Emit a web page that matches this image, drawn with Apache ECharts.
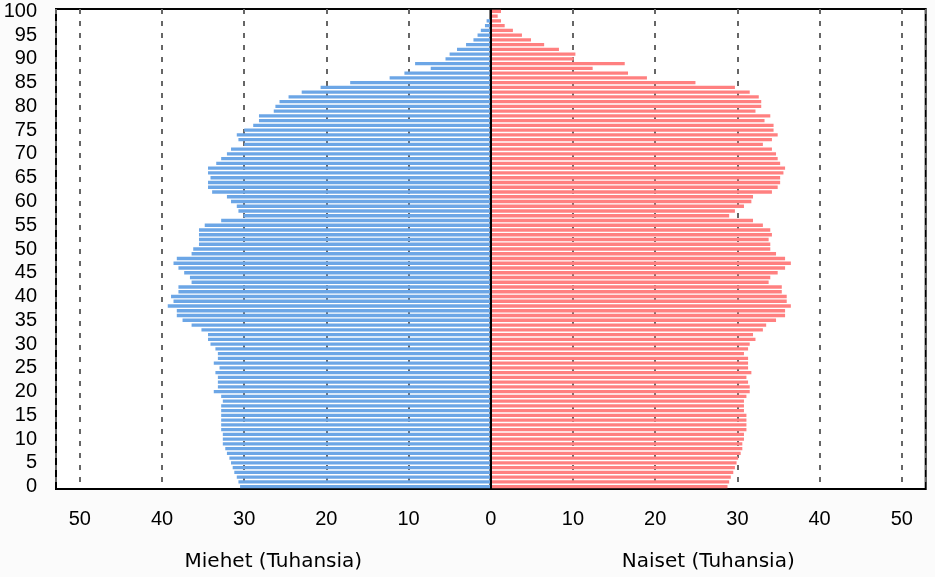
<!DOCTYPE html>
<html>
<head>
<meta charset="utf-8">
<script src="https://cdn.jsdelivr.net/npm/echarts@6/dist/echarts.min.js"></script>
<style>
html, body { margin: 0; padding: 0; background: #fbfbfb; }
#chart { width: 935px; height: 577px; }
</style>
</head>
<body>
<div id="chart"></div>
<script>
// ikäryhmät 0..100
var ages = ['0','1','2','3','4','5','6','7','8','9','10','11','12','13','14','15','16','17','18','19',
    '20','21','22','23','24','25','26','27','28','29','30','31','32','33','34','35','36','37','38','39',
    '40','41','42','43','44','45','46','47','48','49','50','51','52','53','54','55','56','57','58','59',
    '60','61','62','63','64','65','66','67','68','69','70','71','72','73','74','75','76','77','78','79',
    '80','81','82','83','84','85','86','87','88','89','90','91','92','93','94','95','96','97','98','99','100'];

// miehet, tuhansia (ikä 0 -> 100)
var men = [30.5,30.7,30.9,31.2,31.4,31.6,31.8,32.1,32.3,32.6,
    32.6,32.6,32.8,32.8,32.8,32.8,32.8,32.8,32.6,32.8,
    33.7,33.2,33.2,33.2,33.5,33.0,33.7,33.2,33.2,33.5,
    34.1,34.4,34.4,35.2,36.4,37.5,38.2,38.2,39.3,38.6,
    38.9,38.0,38.0,36.4,36.6,37.3,38.0,38.6,38.2,36.4,
    36.2,35.5,35.5,35.5,35.5,34.8,32.8,30.1,30.7,30.9,
    31.6,32.1,33.9,34.4,34.4,34.1,34.4,34.4,33.4,32.8,
    32.1,31.6,30.0,30.7,30.9,30.0,28.9,28.2,28.2,26.4,
    26.2,25.7,24.6,23.0,20.7,17.1,12.3,10.5,7.3,9.2,
    5.5,5.0,4.1,3.0,2.1,1.6,1.2,0.7,0.5,0,0];

// naiset, tuhansia (ikä 0 -> 100)
var women = [28.8,29.0,29.2,29.5,29.7,29.9,30.1,30.4,30.6,30.6,
    30.8,30.8,31.1,31.1,31.1,31.1,30.8,30.8,30.8,31.1,
    31.5,31.5,31.3,31.1,31.7,31.3,31.3,31.3,30.8,31.3,
    31.5,32.2,31.9,33.1,33.5,34.7,35.8,35.8,36.5,36.0,
    36.0,35.4,35.4,33.8,34.0,34.9,35.8,36.5,35.8,34.7,
    34.0,34.0,33.8,34.2,34.0,33.1,31.9,29.0,29.7,30.8,
    31.7,31.9,34.2,34.9,35.2,35.2,35.6,35.8,35.2,34.9,
    34.7,34.2,33.1,34.2,34.9,34.4,34.4,33.3,34.0,32.2,
    32.9,32.9,32.6,31.5,29.7,24.9,19.0,16.7,12.4,16.3,
    10.1,10.3,8.3,6.5,4.9,3.8,2.7,1.7,1.25,0.85,1.25];

var xMax = 52.9;
var numFont = '"Liberation Sans", Arial, sans-serif';
var nameFont = '"DejaVu Sans", sans-serif';

var myChart = echarts.init(document.getElementById('chart'));

function valueAxis(idx, inverse, name, showMin) {
    return {
        type: 'value',
        gridIndex: idx,
        inverse: inverse,
        min: 0,
        max: xMax,
        interval: 10,
        name: name,
        nameLocation: 'middle',
        nameGap: 63,
        nameTextStyle: { color: '#000', fontSize: 20, fontFamily: nameFont },
        axisLine: { show: false },
        axisTick: { show: false },
        axisLabel: {
            color: '#000', fontSize: 20, fontFamily: numFont, margin: 20,
            showMaxLabel: false, showMinLabel: showMin
        },
        splitLine: {
            show: true,
            lineStyle: { color: '#666', width: 2, type: [5, 7] }
        }
    };
}

var option = {
    animation: false,
    backgroundColor: '#fbfbfb',
    grid: [
        { left: 56, right: 444.3, top: 9, bottom: 86.3, show: true,
          backgroundColor: '#fff', borderColor: '#000', borderWidth: 2 },
        { left: 490.7, right: 9.3, top: 9, bottom: 86.3, show: true,
          backgroundColor: '#fff', borderColor: '#000', borderWidth: 2 }
    ],
    xAxis: [
        valueAxis(0, true, 'Miehet (Tuhansia)', true),
        valueAxis(1, false, 'Naiset (Tuhansia)', false)
    ],
    yAxis: [
        {
            type: 'category', gridIndex: 0, data: ages,
            axisLine: { show: false }, axisTick: { show: false },
            axisLabel: { interval: 4, color: '#000', fontSize: 20, fontFamily: numFont,
                margin: 19, padding: [5, 0, 0, 0] }
        },
        {
            type: 'category', gridIndex: 1, data: ages,
            axisLine: { show: false }, axisTick: { show: false },
            axisLabel: { show: false }
        }
    ],
    series: [
        {
            type: 'bar', xAxisIndex: 0, yAxisIndex: 0, data: men,
            barCategoryGap: '30%', itemStyle: { color: '#6ca6e6' }, z: 1
        },
        {
            type: 'bar', xAxisIndex: 1, yAxisIndex: 1, data: women,
            barCategoryGap: '30%', itemStyle: { color: '#ff8080' }, z: 1,
            markLine: {
                silent: true, symbol: 'none', label: { show: false },
                lineStyle: { color: '#000', width: 2, type: 'solid' },
                data: [{ xAxis: 0 }]
            }
        }
    ]
};

myChart.setOption(option);
</script>
</body>
</html>
